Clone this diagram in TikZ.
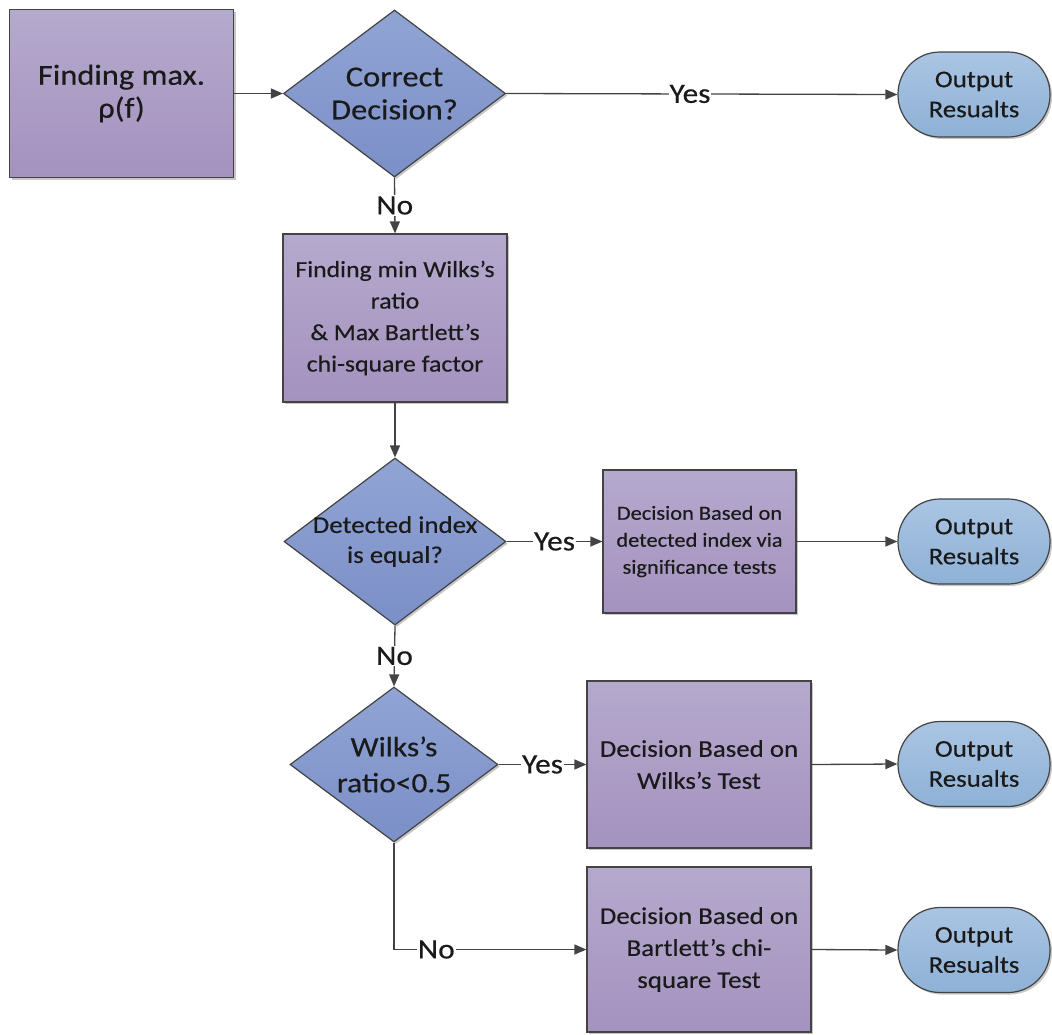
\documentclass[tikz,border=0pt]{standalone}
\usepackage{fontspec}
\setmainfont{Carlito}[FakeStretch=1.12,FakeBold=0.4]
\usetikzlibrary{shapes.geometric,shadows,arrows.meta}
\definecolor{procTop}{HTML}{B5A9CD}
\definecolor{procBot}{HTML}{A492BF}
\definecolor{decTop}{HTML}{90A4D4}
\definecolor{decBot}{HTML}{7B8FC8}
\definecolor{termTop}{HTML}{AAC5E3}
\definecolor{termBot}{HTML}{8EB1D6}
\definecolor{edge}{HTML}{434343}
\definecolor{ink}{HTML}{1A1A1A}
\begin{document}
\begin{tikzpicture}[x=1pt,y=-1pt,
  softshadow/.style={drop shadow={shadow xshift=2pt,shadow yshift=-2pt,opacity=0.22,fill=black}},
  proc/.style={rectangle, draw=edge, line width=1.2pt, top color=procTop, bottom color=procBot,
    softshadow, align=center, text=ink, inner sep=2pt},
  dec/.style={diamond, draw=edge, line width=1.2pt, top color=decTop, bottom color=decBot,
    softshadow, inner sep=0pt},
  dectext/.style={align=center, text=ink, inner sep=0pt},
  term/.style={rectangle, rounded corners=42pt, draw=edge, line width=1.2pt, top color=termTop,
    bottom color=termBot, softshadow, align=center, text=ink, minimum width=152pt,
    minimum height=85pt, font=\fontsize{24}{30}\selectfont},
  link/.style={draw=edge, line width=1.3pt, -{Triangle[length=12pt,width=10pt]}},
  tag/.style={fill=white, inner sep=1pt, text=ink, font=\fontsize{28}{30}\selectfont}
]
\useasboundingbox (0,0) rectangle (1052,1034);

% process boxes
\node[proc, minimum width=224pt, minimum height=168pt, font=\fontsize{29}{33}\selectfont]
  (b1) at (121.5,93.5) {Finding max.\\ρ(f)};
\node[proc, minimum width=224pt, minimum height=168pt, font=\fontsize{23}{31.5}\selectfont]
  (b2) at (395,318) {Finding min Wilks’s\\ratio\\\& Max Bartlett’s\\chi-square factor};
\node[proc, minimum width=193pt, minimum height=143pt, font=\fontsize{20}{27}\selectfont]
  (b3) at (699.5,541.5) {Decision Based on\\detected index via\\significance tests};
\node[proc, minimum width=224pt, minimum height=167pt, font=\fontsize{24}{32}\selectfont]
  (b4) at (699,764.5) {Decision Based on\\Wilks’s Test};
\node[proc, minimum width=224pt, minimum height=165pt, font=\fontsize{24}{32}\selectfont]
  (b5) at (699,949.5) {Decision Based on\\Bartlett’s chi-\\square Test};

% decisions
\node[dec, minimum width=222pt, minimum height=167pt] (d1) at (394.5,93.5) {};
\node[dectext, font=\fontsize{29}{33}\selectfont] (d1t) at (d1.center) {Correct\\Decision?};
\node[dec, minimum width=222pt, minimum height=167pt] (d2) at (395,541.5) {};
\node[dectext, font=\fontsize{24}{30}\selectfont] (d2t) at (d2.center) {Detected index\\is equal?};
\node[dec, minimum width=208pt, minimum height=155pt] (d3) at (394,764.5) {};
\node[dectext, font=\fontsize{28}{36}\selectfont] (d3t) at (d3.center) {Wilks’s\\ratio<0.5};

% terminals
\node[term] (t1) at (974,94.5) {Output\\Resualts};
\node[term] (t2) at (974,541.5) {Output\\Resualts};
\node[term] (t3) at (974,764) {Output\\Resualts};
\node[term] (t4) at (974,950) {Output\\Resualts};

% connectors
\path[link] (b1.east) -- (d1.west);
\path[link] (d1.east) -- node[tag, pos=0.47] {Yes} (t1.west);
\path[link] (d1.south) -- node[tag] {No} (b2.north);
\path[link] (b2.south) -- (d2.north);
\path[link] (d2.east) -- node[tag] {Yes} (b3.west);
\path[link] (b3.east) -- (t2.west);
\path[link] (d2.south) -- node[tag] {No} (d3.north);
\path[link] (d3.east) -- node[tag] {Yes} (b4.west);
\path[link] (b4.east) -- (t3.west);
\path[link] (d3.south) |- node[tag, pos=0.61] {No} (b5.west);
\path[link] (b5.east) -- (t4.west);
\end{tikzpicture}
\end{document}
